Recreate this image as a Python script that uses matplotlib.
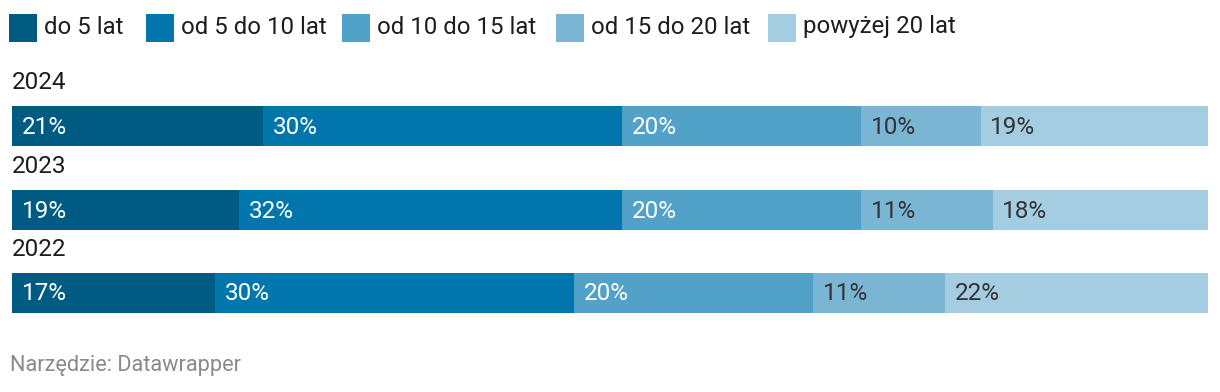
import matplotlib.pyplot as plt
from matplotlib.patches import Rectangle

plt.rcParams['font.family'] = ['Roboto', 'DejaVu Sans']

years = ['2024', '2023', '2022']
categories = ['do 5 lat', 'od 5 do 10 lat', 'od 10 do 15 lat', 'od 15 do 20 lat', 'powyżej 20 lat']
values = [
    [21, 30, 20, 10, 19],
    [19, 32, 20, 11, 18],
    [17, 30, 20, 11, 22],
]
colors = ['#005b83', '#0076ac', '#51a1c8', '#7ab6d4', '#a4cde2']
text_colors = ['white', 'white', 'white', '#333333', '#333333']

W, H = 1220, 392
fig = plt.figure(figsize=(W / 100, H / 100), dpi=100)

# bars area in pixels: x 12..1208
x0, x1 = 12, 1208
ax = fig.add_axes([x0 / W, 0, (x1 - x0) / W, 1])
ax.set_xlim(0, 100)
ax.set_ylim(H, 0)  # pixel coordinates top-down
ax.axis('off')

bar_tops = [106, 190, 273]
bar_h = 40

for i, (yr, row) in enumerate(zip(years, values)):
    left = 0
    top = bar_tops[i]
    ax.text(0, top - 24, yr, fontsize=17.5, color='#1d1d1d', va='center', ha='left')
    for j, v in enumerate(row):
        ax.barh(top + bar_h / 2, v, left=left, height=bar_h, color=colors[j], linewidth=0)
        ax.text(left + 0.8, top + bar_h / 2 + 1, f'{v}%', fontsize=17.5,
                color=text_colors[j], va='center', ha='left')
        left += v

# legend (square x positions in pixels)
legend_x = [9, 146, 342, 556, 768]
for j, cat in enumerate(categories):
    lx = legend_x[j]
    fig.patches.append(Rectangle((lx / W, 1 - 42 / H), 28 / W, 28 / H,
                                 transform=fig.transFigure, color=colors[j], linewidth=0))
    fig.text((lx + 35) / W, 1 - 27 / H, cat, fontsize=17.3, color='#1d1d1d',
             va='center', ha='left')

fig.text(10 / W, 1 - 366 / H, 'Narzędzie: Datawrapper', fontsize=15.7, color='#8a8a8a',
         va='center', ha='left')

fig.savefig('out.png', dpi=100)
